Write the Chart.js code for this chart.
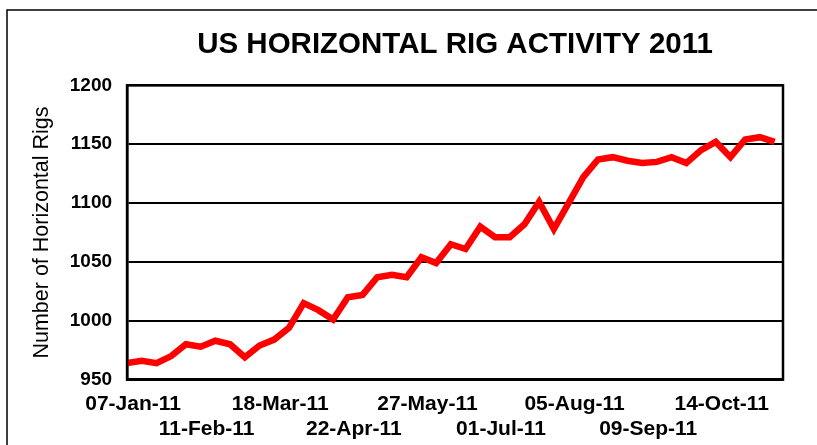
<!DOCTYPE html>
<html>
<head>
<meta charset="utf-8">
<script src="https://cdn.jsdelivr.net/npm/chart.js@4.4.1/dist/chart.umd.min.js"></script>
<style>
  body { margin: 0; background: #fff; }
  #box { width: 817px; height: 445px; position: relative; }
</style>
</head>
<body>
<div id="box"><canvas id="myChart"></canvas></div>
<script>
// weekly horizontal rig count, 2011
const weeks = ["07-Jan-11", "14-Jan-11", "21-Jan-11", "28-Jan-11", "04-Feb-11", "11-Feb-11", "18-Feb-11", "25-Feb-11",
  "04-Mar-11", "11-Mar-11", "18-Mar-11", "25-Mar-11", "01-Apr-11", "08-Apr-11", "15-Apr-11", "22-Apr-11", "29-Apr-11",
  "06-May-11", "13-May-11", "20-May-11", "27-May-11", "03-Jun-11", "10-Jun-11", "17-Jun-11", "24-Jun-11",
  "01-Jul-11", "08-Jul-11", "15-Jul-11", "22-Jul-11", "29-Jul-11", "05-Aug-11", "12-Aug-11", "19-Aug-11", "26-Aug-11",
  "02-Sep-11", "09-Sep-11", "16-Sep-11", "23-Sep-11", "30-Sep-11", "07-Oct-11", "14-Oct-11", "21-Oct-11", "28-Oct-11",
  "04-Nov-11", "11-Nov-11"];
const rigs = [964, 966, 964, 970, 980, 978, 983, 980,
  969, 979, 984, 994, 1015, 1009, 1001, 1020, 1022,
  1037, 1039, 1037, 1054, 1049, 1065, 1061, 1080,
  1071, 1071, 1082, 1101, 1078, 1100, 1122, 1137, 1139,
  1136, 1134, 1135, 1139, 1134, 1145, 1152, 1139, 1154,
  1156, 1152];
const yTicks = [950, 1000, 1050, 1100, 1150, 1200];
const labelEvery = 5;

const fontName = "Arial, 'Liberation Sans', sans-serif";

// outer frame + thick border round the plot
const frame = {
  id: 'frame',
  beforeDraw(chart) {
    const ctx = chart.ctx;
    ctx.save();
    ctx.strokeStyle = '#000';
    ctx.lineWidth = 1.5;
    ctx.beginPath();
    ctx.moveTo(7, chart.height);
    ctx.lineTo(7, 10);
    ctx.lineTo(chart.width, 10);
    ctx.stroke();
    ctx.restore();
  },
  afterDraw(chart) {
    const a = chart.chartArea;
    const ctx = chart.ctx;
    ctx.save();
    ctx.strokeStyle = '#000';
    ctx.lineWidth = 2.5;
    ctx.strokeRect(a.left, a.top, a.right - a.left, a.bottom - a.top);
    ctx.restore();
  }
};

new Chart("myChart", {
  type: "line",
  data: {
    datasets: [{
      data: rigs.map((v, i) => ({x: i, y: v})),
      borderColor: "#ff0000",
      borderWidth: 6.5,
      pointRadius: 0,
      tension: 0,
      fill: false
    }]
  },
  options: {
    responsive: true,
    maintainAspectRatio: false,
    animation: false,
    layout: { padding: { left: 0, right: 34, top: 0, bottom: -9 } },
    plugins: {
      legend: { display: false },
      tooltip: { enabled: false },
      title: {
        display: true,
        text: "US HORIZONTAL RIG ACTIVITY 2011",
        fullSize: false,
        color: "#000",
        font: { family: fontName, size: 29.5, weight: "bold" },
        padding: { top: 27, bottom: 23 }
      }
    },
    scales: {
      x: {
        type: "linear",
        min: 0,
        max: weeks.length - 1 + 0.57,
        afterBuildTicks: function(axis) {
          axis.ticks = [];
          for (let i = 0; i < weeks.length; i += labelEvery) axis.ticks.push({ value: i });
        },
        ticks: {
          autoSkip: false,
          maxRotation: 0,
          labelOffset: 6,
          padding: 12,
          color: "#000",
          font: { family: fontName, size: 21, weight: "bold" },
          callback: function(value, index) {
            const label = weeks[value];
            return index % 2 == 0 ? [label, ""] : ["", label];
          }
        },
        grid: { display: false, drawTicks: false },
        border: { display: true, color: "#000", width: 2.5 }
      },
      y: {
        min: yTicks[0],
        max: yTicks[yTicks.length - 1],
        ticks: {
          stepSize: yTicks[1] - yTicks[0],
          padding: 15,
          color: "#000",
          font: { family: fontName, size: 19, weight: "bold" },
          callback: function(value) { return String(value); }
        },
        grid: { color: "#000", lineWidth: 2, drawTicks: false },
        border: { display: true, color: "#000", width: 2.5 },
        title: {
          display: true,
          text: "Number of Horizontal Rigs",
          color: "#000",
          font: { family: fontName, size: 21.5 },
          padding: { top: 29, bottom: 0 }
        }
      }
    }
  },
  plugins: [frame]
});
</script>
</body>
</html>
